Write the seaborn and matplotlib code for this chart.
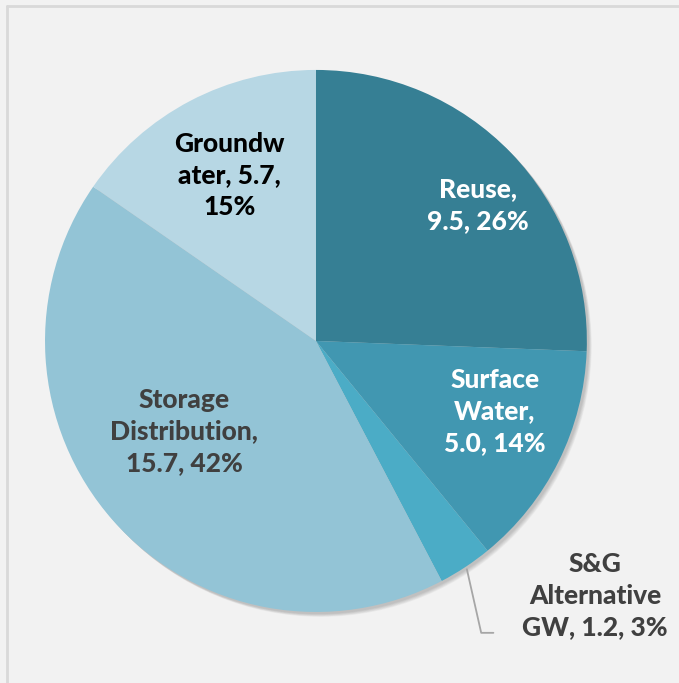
import numpy as np
import seaborn as sns
import matplotlib.pyplot as plt
from matplotlib.patches import Circle
from matplotlib.lines import Line2D

# Data
categories = ['Reuse', 'Surface Water', 'S&G Alternative GW', 'Storage Distribution', 'Groundwater']
values = [9.5, 5.0, 1.2, 15.7, 5.7]
percents = ['26%', '14%', '3%', '42%', '15%']
label_text = [
    'Reuse,\n9.5, 26%',
    'Surface\nWater,\n5.0, 14%',
    'S&G\nAlternative\nGW, 1.2, 3%',
    'Storage\nDistribution,\n15.7, 42%',
    'Groundw\nater, 5.7,\n15%',
]
colors = ['#367F94', '#4197B1', '#4BACC6', '#93C4D6', '#B7D7E4']
text_colors = ['white', 'white', '#404040', '#404040', 'black']

sns.set_style('white')
plt.rcParams['font.family'] = ['Lato', 'DejaVu Sans']

fig = plt.figure(figsize=(6.79, 6.83), dpi=100)
fig.patch.set_facecolor('#F2F2F2')

# light frame lines at left and top
fig.add_artist(Line2D([0.0105, 0.0105], [0.0, 0.991], color='#D9D9D9', lw=2, transform=fig.transFigure))
fig.add_artist(Line2D([0.0105, 1.0], [0.991, 0.991], color='#D9D9D9', lw=2, transform=fig.transFigure))

ax = fig.add_axes([0.0663, 0.104, 0.798, 0.7936])
ax.set_facecolor('none')

# faint drop shadow toward the lower right
for k in range(6):
    ax.add_patch(Circle((0.008 + 0.002 * k, -0.008 - 0.002 * k), 1.0, color='black',
                        alpha=0.035, lw=0, zorder=0, clip_on=False))

wedges, _ = ax.pie(values, colors=colors, startangle=90, counterclock=False,
                   radius=1.0, wedgeprops=dict(linewidth=0, clip_on=False))
ax.set_xlim(-1, 1)
ax.set_ylim(-1, 1)
ax.set_aspect('auto')
ax.axis('off')

# label placement: fraction of radius and angle tweak per wedge
label_r = [0.78, 0.71, None, 0.59, 0.69]
angle_shift = [-4, 5, 0, -7, 0]

for i, w in enumerate(wedges):
    if label_r[i] is None:
        continue
    mid = np.deg2rad((w.theta1 + w.theta2) / 2 + angle_shift[i])
    x = label_r[i] * np.cos(mid)
    y = label_r[i] * np.sin(mid)
    ax.text(x, y, label_text[i], ha='center', va='center', fontsize=19,
            fontweight='black', color=text_colors[i], linespacing=1.38)

# S&G label sits outside, with a leader line from the wedge edge
w = wedges[2]
mid = np.deg2rad((w.theta1 + w.theta2) / 2)
ex, ey = 1.01 * np.cos(mid), 1.01 * np.sin(mid)
ax.plot([ex, 0.61, 0.655], [ey, -1.077, -1.077], color='#A6A6A6', lw=1.3, clip_on=False)
ax.text(1.03, -0.94, label_text[2], ha='center', va='center', fontsize=19,
        fontweight='black', color=text_colors[2], linespacing=1.38, clip_on=False)

fig.savefig('out.png', dpi=100, facecolor=fig.get_facecolor())
